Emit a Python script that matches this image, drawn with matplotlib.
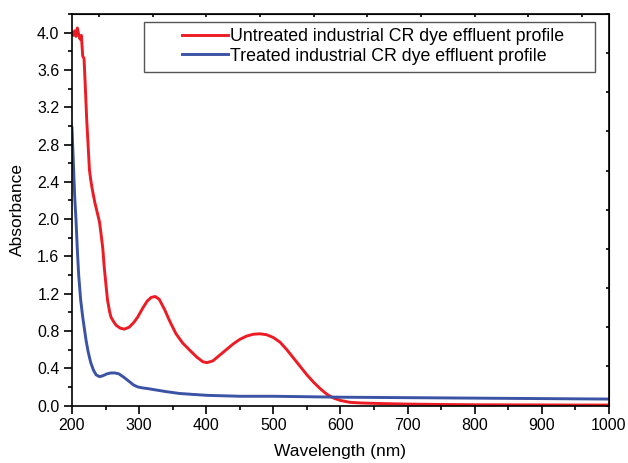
import numpy as np
import matplotlib.pyplot as plt
from matplotlib.ticker import MultipleLocator
from matplotlib.patches import Rectangle

plt.rcParams['font.family'] = ['Liberation Sans', 'DejaVu Sans']

# untreated effluent spectrum
wl_untreated = [200, 202, 204, 206, 208, 210, 212, 214, 216, 218, 220, 222, 224, 226,
                228, 230, 234, 238, 241, 243, 246, 248, 251, 253, 256, 258, 262, 266,
                272, 278, 285, 292, 298, 305, 312, 318, 324, 330, 338, 346, 355, 365,
                376, 386, 395, 401, 410, 420, 430, 440, 450, 460, 470, 480, 490, 500,
                510, 520, 530, 540, 550, 560, 570, 580, 590, 600, 614, 630, 660, 700,
                750, 800, 850, 900, 950, 1000]
abs_untreated = [4.00, 3.97, 4.02, 3.96, 4.05, 3.98, 3.93, 3.97, 3.75, 3.72, 3.40, 3.06,
                 2.80, 2.53, 2.42, 2.33, 2.18, 2.06, 1.97, 1.86, 1.68, 1.49, 1.27, 1.13,
                 1.01, 0.95, 0.90, 0.86, 0.83, 0.82, 0.84, 0.89, 0.95, 1.04, 1.12, 1.16,
                 1.17, 1.14, 1.03, 0.90, 0.77, 0.67, 0.59, 0.52, 0.47, 0.46, 0.48, 0.54,
                 0.60, 0.66, 0.71, 0.745, 0.765, 0.77, 0.76, 0.73, 0.68, 0.60, 0.51, 0.42,
                 0.33, 0.25, 0.18, 0.12, 0.08, 0.055, 0.035, 0.028, 0.022, 0.016, 0.012,
                 0.009, 0.008, 0.007, 0.006, 0.006]

# treated effluent spectrum
wl_treated = [200, 202, 204, 206, 208, 210, 213, 216, 219, 221, 224, 228, 232, 236, 241,
              246, 252, 258, 264, 270, 278, 285, 292, 298, 305, 315, 323, 340, 360, 380,
              401, 450, 500, 550, 600, 700, 800, 900, 1000]
abs_treated = [2.98, 2.62, 2.25, 1.99, 1.67, 1.40, 1.13, 0.95, 0.80, 0.70, 0.58, 0.46,
               0.38, 0.33, 0.31, 0.32, 0.34, 0.35, 0.35, 0.34, 0.30, 0.26, 0.22, 0.20,
               0.19, 0.18, 0.17, 0.15, 0.13, 0.12, 0.11, 0.10, 0.10, 0.095, 0.09, 0.085,
               0.08, 0.075, 0.07]

fig = plt.figure(figsize=(6.28, 4.63), dpi=100)
ax = fig.add_axes([0.1146, 0.1240, 0.8551, 0.8458])

ax.plot(wl_untreated, abs_untreated, color='#ED1C24', lw=2.1,
        label='Untreated industrial CR dye effluent profile')
ax.plot(wl_treated, abs_treated, color='#3A53A4', lw=2.1,
        label='Treated industrial CR dye effluent profile')

ax.set_xlim(200, 1000)
ax.set_ylim(0, 4.2)
ax.xaxis.set_major_locator(MultipleLocator(100))
ax.xaxis.set_minor_locator(MultipleLocator(50))
ax.yaxis.set_major_locator(MultipleLocator(0.4))
ax.yaxis.set_minor_locator(MultipleLocator(0.2))
ax.yaxis.set_major_formatter(plt.FuncFormatter(lambda v, p: f'{v:.1f}'))

ax.tick_params(which='both', direction='out', width=1.2, labelsize=11.5, colors='black')
ax.tick_params(which='major', length=5.5)
ax.tick_params(which='minor', length=3)
for spine in ax.spines.values():
    spine.set_linewidth(1.2)

# opposite axes carry their own short ticks, ten divisions each
top = ax.secondary_xaxis('top')
top.xaxis.set_major_locator(MultipleLocator(80))
top.tick_params(direction='in', length=2.5, width=1.2, labeltop=False)
right = ax.secondary_yaxis('right')
right.yaxis.set_major_locator(MultipleLocator(0.42))
right.tick_params(direction='in', length=2.5, width=1.2, labelright=False)

ax.set_xlabel('Wavelength (nm)', fontsize=12.5, labelpad=8)
ax.set_ylabel('Absorbance', fontsize=12.5, labelpad=9)

# legend entries, with a separate wider frame around them
ax.add_patch(Rectangle((0.134, 0.853), 0.840, 0.126, transform=ax.transAxes,
                       fill=False, edgecolor='#555555', lw=1.0, zorder=4))
ax.legend(loc='center left', bbox_to_anchor=(0.2048, 0.9175), fontsize=12.8,
          frameon=False, borderpad=0, handlelength=2.6, handletextpad=0.1,
          labelspacing=0.15, borderaxespad=0)

fig.savefig('out.png', dpi=100)
